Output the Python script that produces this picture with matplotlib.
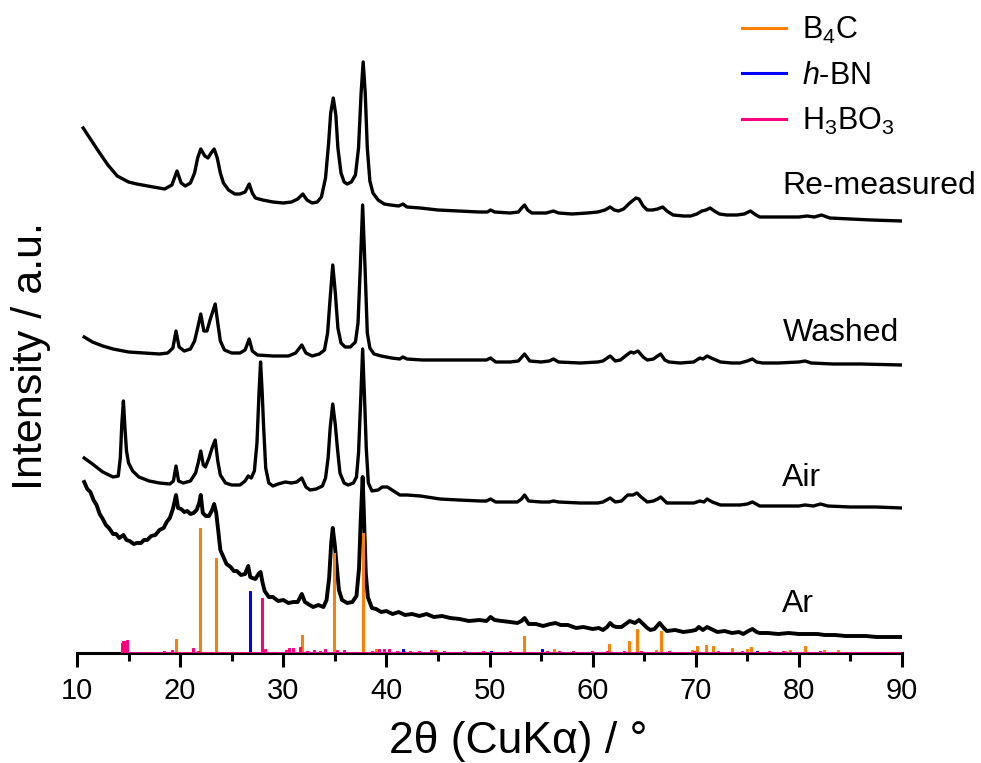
import numpy as np
import matplotlib
matplotlib.use('Agg')
import matplotlib.pyplot as plt
from matplotlib.lines import Line2D

plt.rcParams['font.family'] = ['Liberation Sans', 'DejaVu Sans']
plt.rcParams['mathtext.fontset'] = 'custom'
plt.rcParams['mathtext.rm'] = 'Liberation Sans'
plt.rcParams['mathtext.it'] = 'Liberation Sans:italic'

# measured patterns (2theta, intensity a.u., already stacked)
remeasured_x = [10.6, 12.0, 13.0, 13.9, 15.0, 15.8, 17.4, 18.5, 19.2, 19.7, 20.1, 20.5, 21.0, 21.4, 21.7,
                22.0, 22.4, 22.7, 23.0, 23.3, 23.6, 23.9, 24.2, 24.7, 25.3, 25.8, 26.3, 26.7, 27.0, 27.3,
                28.0, 29.0, 30.0, 30.8, 31.4, 31.9, 32.3, 32.8, 33.3, 33.7, 34.1, 34.4, 34.6, 34.85, 35.1,
                35.3, 35.6, 35.9, 36.2, 36.6, 37.0, 37.3, 37.55, 37.75, 37.95, 38.15, 38.4, 38.7, 39.2,
                39.8, 40.4, 41.2, 41.6, 42.0, 43.3, 45.0, 47.0, 49.0, 49.8, 50.1, 50.5, 52.0, 52.8, 53.2,
                53.4, 53.7, 54.1, 55.5, 56.2, 56.7, 58.0, 59.5, 60.5, 61.2, 61.7, 62.1, 62.5, 63.0, 63.6,
                64.2, 64.5, 64.9, 65.3, 65.8, 66.3, 66.8, 67.2, 67.8, 68.8, 69.5, 70.1, 70.6, 71.0, 71.4,
                71.8, 72.3, 73.0, 74.0, 74.7, 75.3, 75.7, 76.2, 78.0, 80.0, 80.8, 81.5, 82.2, 83.0, 85.0,
                87.0, 90.0]
remeasured_y = [525, 503, 488, 477, 471, 469, 466, 464, 468, 482, 470, 467, 470, 480, 495,
                504, 497, 495, 500, 504, 495, 480, 470, 463, 459, 459, 461, 469, 460, 455,
                453, 451, 450, 451, 454, 459, 453, 450, 451, 456, 475, 510, 540, 555, 538,
                505, 480, 471, 469, 471, 478, 505, 560, 591, 560, 505, 472, 460, 453,
                449, 448, 447, 449, 446, 445, 443, 442, 441, 441, 443, 441, 440, 441, 446,
                448, 443, 440, 440, 442, 440, 439, 440, 441, 443, 446, 443, 442, 444, 450,
                455, 454, 447, 443, 443, 444, 446, 442, 438, 437, 437, 439, 442, 443, 445,
                442, 439, 438, 438, 439, 442, 439, 436, 436, 436, 437, 436, 438, 435, 434,
                433, 432]

washed_x = [10.7, 11.5, 12.5, 13.5, 15.0, 16.5, 18.0, 18.8, 19.3, 19.6, 19.9, 20.4, 21.0, 21.4, 21.7,
            22.0, 22.3, 22.6, 22.9, 23.4, 23.65, 23.9, 24.3, 25.0, 25.8, 26.3, 26.7, 27.0, 27.5, 29.0,
            30.5, 31.2, 31.8, 32.2, 32.8, 33.5, 34.0, 34.3, 34.55, 34.8, 35.05, 35.3, 35.6, 36.0, 36.5,
            37.0, 37.25, 37.45, 37.7, 37.95, 38.15, 38.4, 38.8, 39.5, 40.5, 41.3, 41.6, 42.0, 43.5,
            45.0, 47.0, 49.1, 49.7, 50.1, 50.6, 52.0, 52.8, 53.4, 53.9, 55.0, 55.8, 56.2, 56.7, 58.8,
            60.5, 61.0, 61.7, 62.2, 62.7, 63.3, 63.7, 64.0, 64.4, 64.9, 65.3, 65.9, 66.3, 66.6, 67.0,
            67.4, 68.5, 69.8, 70.4, 70.7, 71.1, 71.5, 72.4, 73.5, 74.3, 75.0, 75.5, 75.9, 76.5, 78.0,
            80.0, 80.6, 81.2, 83.3, 86.0, 90.0]
washed_y = [316, 311, 307, 304, 301, 300, 299, 300, 305, 322, 306, 302, 304, 312, 325,
            339, 322, 322, 333, 349, 330, 312, 303, 300, 300, 303, 314, 302, 298, 297,
            297, 300, 308, 300, 297, 299, 303, 320, 355, 388, 360, 325, 310, 306, 306,
            311, 330, 380, 448, 380, 320, 305, 299, 297, 295, 294, 296, 294, 293,
            293, 293, 293, 293, 295, 291, 291, 292, 299, 292, 291, 292, 294, 291, 290,
            291, 292, 297, 292, 293, 298, 301, 300, 302, 296, 293, 294, 297, 299, 293,
            291, 290, 291, 295, 294, 297, 295, 291, 290, 290, 292, 294, 291, 290, 290,
            291, 292, 290, 289, 289, 288]

air_x = [10.7, 11.5, 12.5, 13.5, 14.0, 14.2, 14.35, 14.5, 14.65, 14.8, 15.0, 15.4, 16.0, 17.0, 18.0,
         19.0, 19.35, 19.6, 19.85, 20.3, 21.0, 21.5, 21.75, 22.0, 22.25, 22.45, 22.8, 23.1, 23.4, 23.65,
         23.9, 24.4, 25.0, 25.8, 26.3, 26.6, 26.9, 27.2, 27.45, 27.65, 27.8, 27.95, 28.1, 28.3, 28.6,
         29.0, 29.5, 30.2, 30.8, 31.3, 31.8, 32.2, 32.6, 33.2, 33.8, 34.1, 34.35, 34.55, 34.8, 35.05,
         35.25, 35.5, 35.9, 36.3, 36.8, 37.1, 37.3, 37.5, 37.7, 37.9, 38.05, 38.25, 38.6, 39.2, 39.6,
         40.1, 40.7, 41.3, 42.0, 43.3, 45.2, 47.0, 49.1, 49.7, 50.1, 50.6, 52.0, 52.7, 53.1, 53.4,
         53.8, 55.0, 55.8, 56.2, 56.7, 58.8, 60.5, 61.0, 61.7, 62.2, 62.8, 63.4, 63.9, 64.3, 64.7,
         65.3, 65.9, 66.3, 66.6, 67.2, 68.5, 69.8, 70.4, 70.8, 71.1, 71.6, 72.4, 74.3, 75.0, 75.5,
         76.2, 78.0, 80.0, 80.6, 81.4, 82.1, 82.8, 85.0, 87.5, 90.0]
air_y = [195, 189, 181, 176, 177, 195, 230, 252, 225, 202, 190, 182, 176, 172, 170,
         169, 172, 187, 172, 170, 172, 180, 190, 202, 188, 186, 195, 205, 213, 192,
         178, 170, 168, 168, 172, 177, 175, 182, 210, 260, 291, 262, 225, 185, 170,
         167, 169, 171, 170, 171, 175, 166, 163, 164, 167, 175, 195, 225, 249, 228,
         205, 180, 170, 168, 170, 176, 200, 250, 304, 250, 205, 170, 162, 163, 166,
         166, 162, 158, 158, 157, 154, 153, 152, 152, 154, 151, 151, 151, 154, 158,
         152, 151, 151, 152, 151, 150, 150, 151, 155, 151, 152, 158, 158, 160, 156,
         151, 152, 154, 156, 150, 150, 150, 152, 151, 154, 151, 148, 148, 149, 151,
         147, 147, 147, 148, 147, 149, 147, 146, 146, 145]

ar_x = [10.7, 11.0, 11.3, 11.6, 11.9, 12.2, 12.5, 12.8, 13.1, 13.5, 13.8, 14.1, 14.5, 14.8, 15.1,
        15.5, 15.8, 16.2, 16.5, 16.8, 17.2, 17.6, 18.0, 18.4, 18.7, 19.0, 19.3, 19.6, 19.8, 20.1,
        20.4, 20.7, 21.0, 21.3, 21.6, 21.85, 22.0, 22.2, 22.5, 22.8, 23.1, 23.3, 23.5, 23.7, 23.9,
        24.2, 24.5, 24.9, 25.2, 25.5, 25.9, 26.3, 26.6, 26.8, 27.0, 27.3, 27.6, 27.8, 28.0, 28.2,
        28.6, 29.0, 29.5, 30.0, 30.5, 31.0, 31.4, 31.8, 32.1, 32.4, 32.9, 33.4, 33.9, 34.2, 34.45,
        34.65, 34.8, 35.0, 35.2, 35.4, 35.7, 36.2, 36.7, 37.1, 37.35, 37.5, 37.7, 37.85, 38.0, 38.2,
        38.6, 39.0, 39.5, 40.0, 40.6, 41.2, 41.8, 42.5, 43.2, 43.9, 44.6, 45.4, 46.2, 47.1, 48.0,
        49.0, 49.7, 50.1, 50.5, 51.2, 52.0, 52.7, 53.1, 53.4, 53.8, 54.5, 55.2, 55.9, 56.4, 56.9,
        57.6, 58.4, 59.1, 60.0, 60.6, 61.0, 61.4, 61.7, 62.0, 62.3, 62.8, 63.2, 63.6, 64.1, 64.5,
        64.9, 65.3, 65.6, 66.0, 66.5, 66.9, 67.2, 68.0, 68.8, 69.5, 70.0, 70.3, 70.7, 71.1, 71.5,
        72.1, 72.8, 73.5, 74.2, 74.6, 75.1, 75.5, 75.9, 76.2, 77.0, 78.0, 79.0, 80.0, 81.0, 81.8,
        82.5, 83.5, 84.5, 85.5, 86.5, 87.5, 88.5, 90.0]
ar_y = [171, 164, 161, 153, 148, 139, 134, 128, 125, 119, 119, 115, 118, 113, 112,
        109, 110, 110, 113, 113, 117, 118, 123, 125, 131, 135, 144, 158, 145, 144,
        141, 142, 139, 140, 143, 150, 158, 140, 137, 137, 143, 149, 140, 122, 103,
        96, 89, 86, 82, 82, 78, 79, 87, 76, 75, 74, 79, 81, 70, 62,
        56, 56, 52, 53, 50, 51, 51, 59, 51, 49, 46, 48, 46, 53, 75,
        110, 125, 108, 86, 63, 53, 50, 51, 57, 85, 130, 176, 130, 80, 56,
        45, 44, 41, 42, 39, 41, 38, 39, 37, 39, 36, 37, 35, 34, 32,
        33, 32, 36, 33, 32, 31, 30, 32, 35, 29, 29, 27, 29, 30, 28,
        28, 25, 26, 24, 25, 23, 26, 30, 27, 26, 26, 29, 32, 30, 33,
        29, 25, 23, 24, 30, 25, 22, 23, 21, 22, 23, 26, 23, 26, 24,
        21, 22, 20, 21, 19, 22, 24, 21, 20, 20, 19, 20, 19, 19, 19,
        18, 18, 17, 17, 17, 16, 16, 16]

# reference patterns (stick positions and heights)
b4c_x = [19.6, 21.95, 23.45, 31.85, 34.9, 37.75, 39.0, 41.7, 44.7, 53.3, 56.3, 61.6, 63.5, 64.3,
         66.1, 66.6, 69.6, 70.1, 71.0, 71.7, 73.5, 75.0, 75.4, 78.7, 79.1, 80.6, 82.4, 83.8]
b4c_h = [14, 125, 95, 18, 100, 120, 4, 2, 3, 17, 4, 9, 12, 24,
         3, 22, 3, 7, 8, 7, 5, 4, 6, 2, 3, 7, 3, 3]

hbn_x = [26.75, 41.6, 43.9, 50.1, 55.1, 75.9, 82.1]
hbn_h = [62, 4, 1, 2, 4, 2, 1]

h3bo3_x = [14.35, 14.5, 14.65, 14.8, 17.7, 18.4, 19.2, 21.2, 21.7, 22.9, 24.6, 25.5, 26.0, 27.95,
           28.25, 28.6, 29.4, 30.3, 30.6, 30.9, 31.6, 32.3, 33.0, 33.6, 34.0, 35.2, 35.9, 36.5,
           37.3, 38.6, 39.3, 39.8, 40.3, 41.0, 42.3, 43.2, 44.3, 45.6, 46.3, 47.5, 48.4, 49.4,
           50.6, 51.2, 52.0, 52.6, 54.0, 55.6, 56.7, 57.4, 58.1, 58.8, 59.9, 60.6, 61.4, 62.1,
           63.0, 63.8, 64.7, 65.5, 67.4, 68.2, 69.0, 69.8, 70.9, 72.2, 72.9, 73.8, 74.5, 76.3,
           77.1, 78.0, 78.5, 79.5, 80.2, 81.2, 82.0, 82.8, 83.5, 84.3, 85.0, 86.1, 87.0, 88.2,
           89.0, 89.7]
h3bo3_h = [10, 12, 12, 13, 1, 2, 3, 5, 2, 1, 1, 1, 1, 55,
           4, 1, 1, 3, 5, 5, 6, 2, 3, 2, 4, 3, 3, 1,
           1, 2, 4, 4, 4, 2, 2, 2, 3, 2, 1, 2, 1, 2,
           1, 1, 2, 1, 1, 2, 2, 1, 2, 1, 2, 1, 2, 1,
           2, 1, 2, 1, 2, 1, 1, 2, 1, 2, 1, 1, 2, 1,
           2, 1, 2, 1, 1, 1, 2, 1, 1, 1, 1, 1, 1, 1,
           1, 1]

curves = [('Re-measured', remeasured_x, remeasured_y, 467),
          ('Washed', washed_x, washed_y, 320),
          ('Air', air_x, air_y, 175),
          ('Ar', ar_x, ar_y, 49)]


def sticks(x, h):
    # drop lines from a zero baseline, like the reference card plot
    xs, ys = [], []
    for xi, hi in zip(x, h):
        xs += [xi, xi, xi]
        ys += [0, hi, 0]
    return xs, ys


fig = plt.figure(figsize=(9.81, 7.63), dpi=100)
ax = fig.add_axes([77 / 981, 110 / 763, 825 / 981, 633 / 763])

for name, x, y, ylab in curves:
    lw = 2.8 if name == 'Ar' else 2.4
    ax.plot(x, y, color='black', lw=lw, zorder=2, solid_joinstyle='round')
    ax.text(78.4, ylab, name, fontsize=23, va='center', ha='left')

for x, h, c in [(b4c_x, b4c_h, '#FF8000'),
                (hbn_x, hbn_h, '#0000FF'),
                (h3bo3_x, h3bo3_h, '#FF0080')]:
    sx, sy = sticks(x, h)
    ax.plot(sx, sy, color=c, lw=2.0, zorder=3, solid_joinstyle='miter')

ax.set_xlim(10, 90)
ax.set_ylim(0, 633)
ax.set_xticks(np.arange(10, 91, 10))
ax.set_xticks(np.arange(15, 90, 10), minor=True)
ax.set_yticks([])
for s in ['top', 'right', 'left']:
    ax.spines[s].set_visible(False)
ax.spines['bottom'].set_linewidth(2.2)
ax.tick_params(axis='x', which='major', direction='out', length=10, width=2.2, labelsize=21, pad=7)
ax.tick_params(axis='x', which='minor', direction='out', length=6, width=2.2)

fig.text(518 / 981, 1 - 741 / 763, '2θ (CuKα) / °', fontsize=32, ha='center', va='center')
fig.text(31 / 981, 1 - 356 / 763, 'Intensity / a.u.', fontsize=31, rotation=90, ha='center', va='center')

handles = [Line2D([], [], color='#FF8000', lw=2.2),
           Line2D([], [], color='#0000FF', lw=2.2),
           Line2D([], [], color='#FF0080', lw=2.2)]
fig.legend(handles, ['B$_4$C', '$h$-BN', 'H$_3$BO$_3$'], loc='upper left',
           bbox_to_anchor=(742 / 981, 1 - 15 / 763), frameon=False, fontsize=22,
           handlelength=1.45, handletextpad=0.5, labelspacing=0.48, borderpad=0, borderaxespad=0)

fig.savefig('out.png', dpi=100)
